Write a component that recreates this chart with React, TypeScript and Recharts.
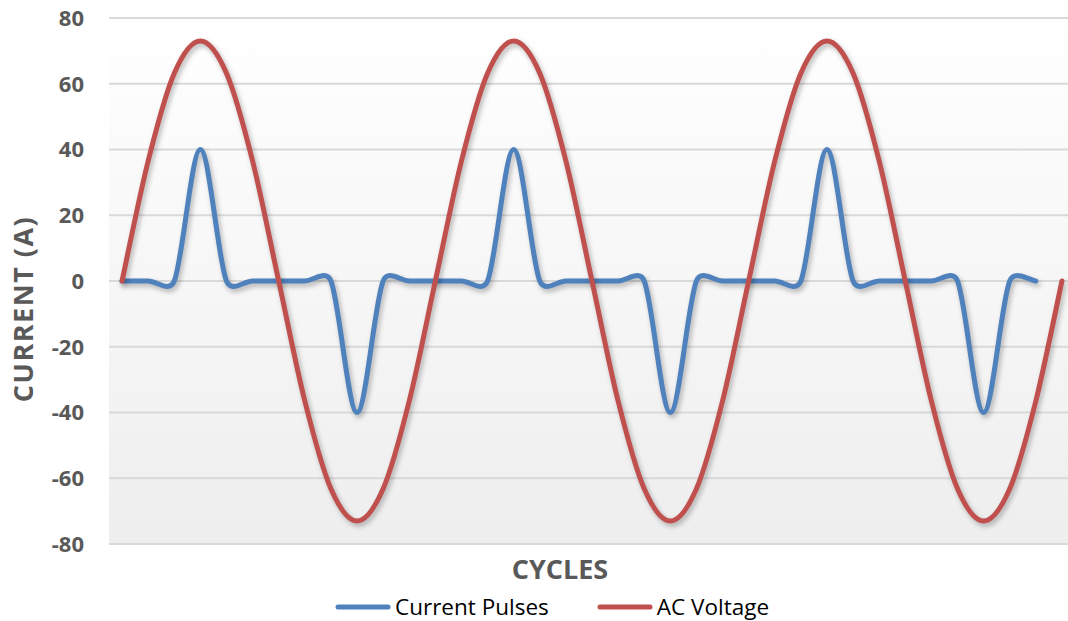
import React from 'react';
import { LineChart, Line, XAxis, YAxis, CartesianGrid, Legend } from 'recharts';

// ---------- data ----------
const cycleIndex = [
  0, 1, 2, 3, 4, 5, 6, 7, 8, 9, 10, 11,
  12, 13, 14, 15, 16, 17, 18, 19, 20, 21, 22, 23,
  24, 25, 26, 27, 28, 29, 30, 31, 32, 33, 34, 35, 36,
];

const acVoltage = [
  0, 36.5, 63.2, 73, 63.2, 36.5, 0, -36.5, -63.2, -73, -63.2, -36.5,
  0, 36.5, 63.2, 73, 63.2, 36.5, 0, -36.5, -63.2, -73, -63.2, -36.5,
  0, 36.5, 63.2, 73, 63.2, 36.5, 0, -36.5, -63.2, -73, -63.2, -36.5, 0,
];

const currentPulses = [
  0, 0, 0, 40, 0, 0, 0, 0, 0, -40, 0, 0,
  0, 0, 0, 40, 0, 0, 0, 0, 0, -40, 0, 0,
  0, 0, 0, 40, 0, 0, 0, 0, 0, -40, 0, 0,
];

const yTicks = [-80, -60, -40, -20, 0, 20, 40, 60, 80];

const seriesNames = ['Current Pulses', 'AC Voltage'];
const seriesColors = ['#4F81BD', '#C0504D'];

const tableData = cycleIndex.map((i, k) => ({
  i,
  current: k < currentPulses.length ? currentPulses[k] : undefined,
  voltage: acVoltage[k],
}));

// ---------- Excel-like smoothing curve (Catmull-Rom bezier, clamped handles) ----------
const TENSION = 1 / 6;
const MAX_HANDLE = 0.5;
function excelCurve(context: any) {
  let pts: number[][] = [];
  const dist = (a: number[], b: number[]) => Math.hypot(b[0] - a[0], b[1] - a[1]);
  const handle = (vx: number, vy: number, segLen: number) => {
    let hx = vx * TENSION;
    let hy = vy * TENSION;
    const len = Math.hypot(hx, hy);
    const lim = segLen * MAX_HANDLE;
    if (len > lim && len > 0) {
      hx *= lim / len;
      hy *= lim / len;
    }
    return [hx, hy];
  };
  return {
    areaStart() {},
    areaEnd() {},
    lineStart() {
      pts = [];
    },
    lineEnd() {
      const n = pts.length;
      if (!n) return;
      context.moveTo(pts[0][0], pts[0][1]);
      for (let i = 0; i < n - 1; i++) {
        const p0 = pts[Math.max(i - 1, 0)];
        const p1 = pts[i];
        const p2 = pts[i + 1];
        const p3 = pts[Math.min(i + 2, n - 1)];
        const seg = dist(p1, p2);
        const h1 = handle(p2[0] - p0[0], p2[1] - p0[1], seg);
        const h2 = handle(p3[0] - p1[0], p3[1] - p1[1], seg);
        context.bezierCurveTo(
          p1[0] + h1[0],
          p1[1] + h1[1],
          p2[0] - h2[0],
          p2[1] - h2[1],
          p2[0],
          p2[1]
        );
      }
    },
    point(x: number, y: number) {
      pts.push([+x, +y]);
    },
  };
}

const FONT = '"Open Sans", "Noto Sans", sans-serif';
const AXIS_GRAY = '#595959';

const renderLegend = () => (
  <div
    style={{
      display: 'flex',
      alignItems: 'center',
      paddingLeft: 335,
      height: 30,
      lineHeight: '30px',
      fontFamily: FONT,
      fontSize: 22.5,
      color: '#000',
      whiteSpace: 'nowrap',
    }}
  >
    {seriesNames.map((name, idx) => (
      <div key={name} style={{ display: 'flex', alignItems: 'center', marginRight: idx === 0 ? 48 : 0 }}>
        <svg width={56} height={10} style={{ marginRight: 4 }}>
          <line x1={3} y1={5} x2={53} y2={5} stroke={seriesColors[idx]} strokeWidth={5} strokeLinecap="round" />
        </svg>
        <span>{name}</span>
      </div>
    ))}
  </div>
);

export default function App() {
  return (
    <div
      style={{
        position: 'absolute',
        left: 0,
        top: 0,
        width: 1068,
        height: 621,
        overflow: 'hidden',
        background: '#fff',
      }}
    >
      <style>{`.recharts-line-curve { filter: drop-shadow(2px 3px 2.5px rgba(0,0,0,0.28)); }`}</style>
      <LineChart
        width={1090}
        height={621}
        data={tableData}
        margin={{ top: 18, right: 15, bottom: 76, left: 0 }}
      >
        <defs>
          <linearGradient id="plotBg" x1="0" y1="0" x2="0" y2="1">
            <stop offset="0%" stopColor="#ffffff" />
            <stop offset="100%" stopColor="#eeeeee" />
          </linearGradient>
        </defs>
        <CartesianGrid
          vertical={false}
          stroke="#d9d9d9"
          strokeWidth={2}
          fill="url(#plotBg)"
          fillOpacity={1}
        />
        <XAxis
          dataKey="i"
          type="number"
          domain={[-0.5, 36.5]}
          allowDataOverflow
          tick={false}
          tickLine={false}
          axisLine={{ stroke: '#d9d9d9', strokeWidth: 2 }}
          height={1}
          label={{
            content: () => (
              <text
                x={560}
                y={579}
                textAnchor="middle"
                fontFamily={FONT}
                fontWeight="bold"
                fontSize={27}
                fill={AXIS_GRAY}
              >
                CYCLES
              </text>
            ),
          }}
        />
        <YAxis
          domain={[-80, 80]}
          ticks={yTicks}
          width={109}
          axisLine={false}
          tickLine={false}
          tickSize={0}
          tickMargin={25}
          interval={0}
          tick={{ fontFamily: FONT, fontSize: 22, fontWeight: 'bold', fill: AXIS_GRAY }}
          label={{
            content: () => (
              <text
                x={33}
                y={309}
                transform="rotate(-90 33 309)"
                textAnchor="middle"
                fontFamily={FONT}
                fontWeight="bold"
                fontSize={27}
                letterSpacing={1.5}
                fill={AXIS_GRAY}
              >
                CURRENT (A)
              </text>
            ),
          }}
        />
        <Legend
          content={renderLegend}
          layout="horizontal"
          verticalAlign="middle"
          wrapperStyle={{ top: 592, left: 0, width: 1068, height: 30 }}
        />
        <Line
          name={seriesNames[0]}
          dataKey="current"
          type={excelCurve as any}
          stroke={seriesColors[0]}
          strokeWidth={5}
          strokeLinecap="round"
          strokeLinejoin="round"
          dot={false}
          activeDot={false}
          isAnimationActive={false}
        />
        <Line
          name={seriesNames[1]}
          dataKey="voltage"
          type={excelCurve as any}
          stroke={seriesColors[1]}
          strokeWidth={5}
          strokeLinecap="round"
          strokeLinejoin="round"
          dot={false}
          activeDot={false}
          isAnimationActive={false}
        />
      </LineChart>
    </div>
  );
}
